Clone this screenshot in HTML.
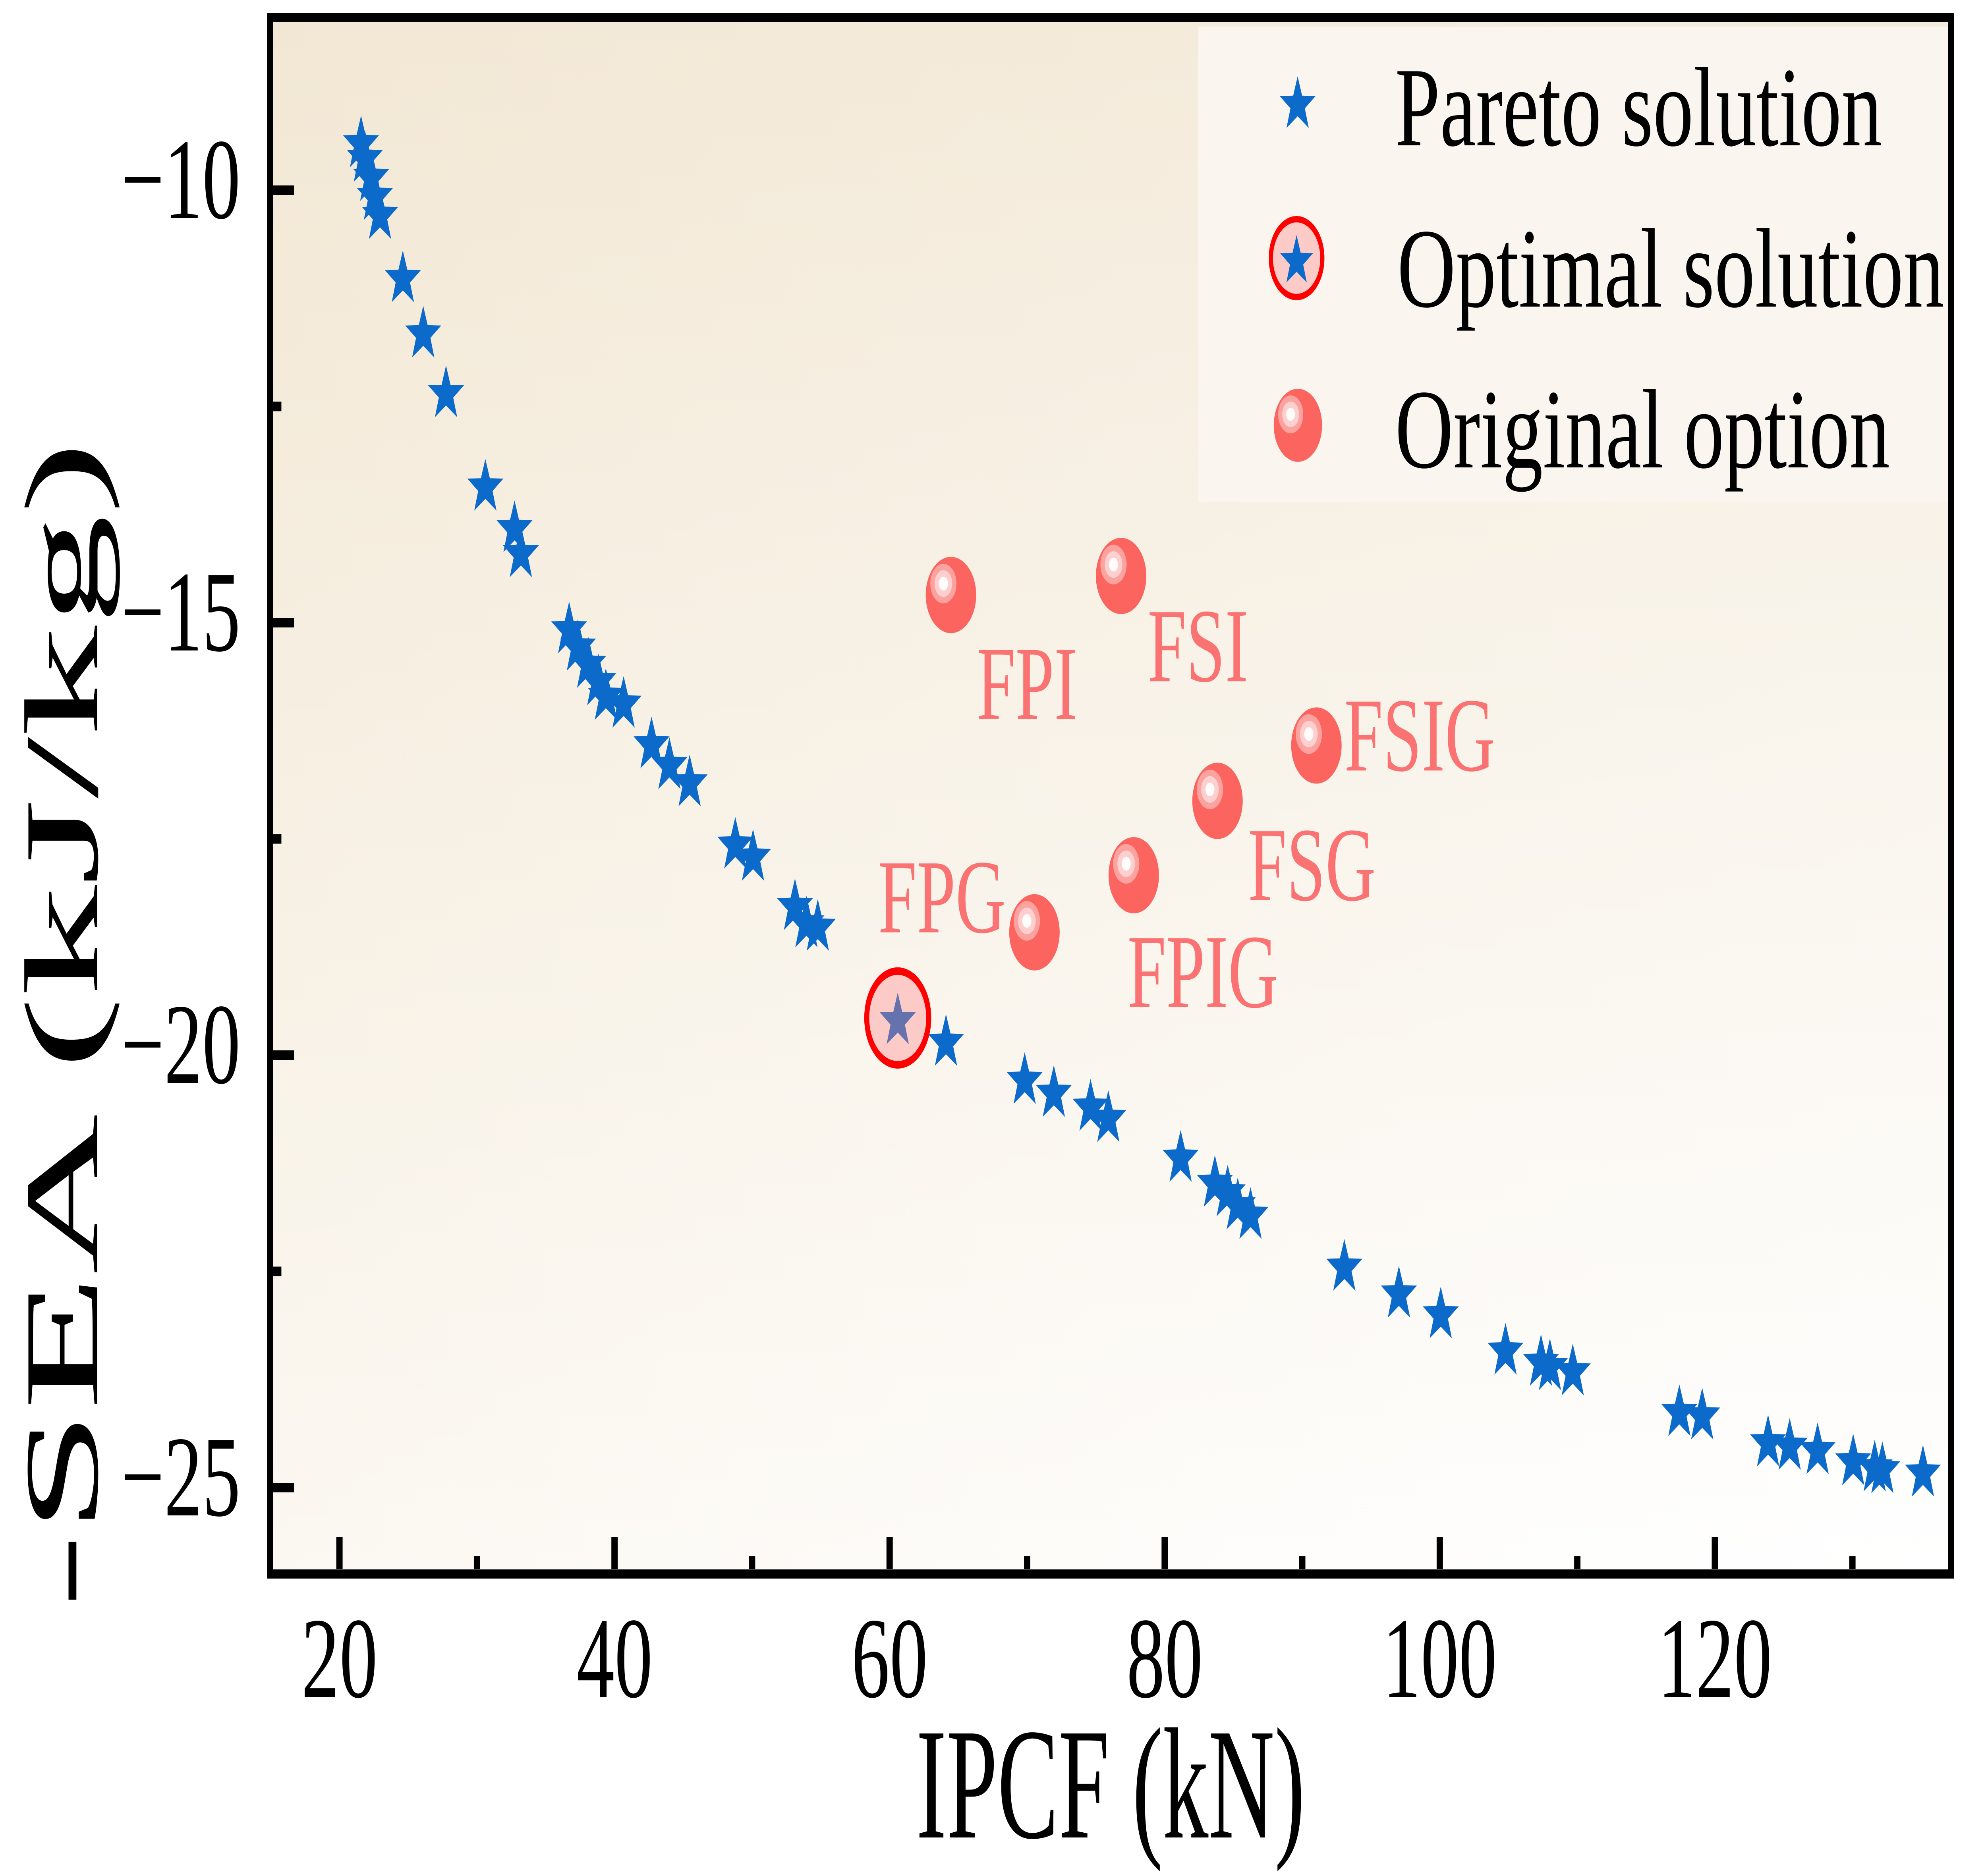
<!DOCTYPE html>
<html><head><meta charset="utf-8"><style>
html,body{margin:0;padding:0;background:#fff;width:100%;height:100%;overflow:hidden;}
svg{display:block;font-family:"Liberation Serif",serif;width:100vw;height:100vh;}
</style></head><body>
<svg id="chart" xmlns="http://www.w3.org/2000/svg" viewBox="0 0 7559 4724" preserveAspectRatio="none">
<defs>
<linearGradient id="bg" x1="0" y1="0" x2="0" y2="1">
<stop offset="0" stop-color="#f3e9d8"/><stop offset="1" stop-color="#ffffff"/>
</linearGradient>
<linearGradient id="bgh" x1="0" y1="0" x2="1" y2="0">
<stop offset="0" stop-color="#f0e2c8" stop-opacity="0.25"/><stop offset="1" stop-color="#ffffff" stop-opacity="0.15"/>
</linearGradient>
</defs>
<rect x="1039" y="55" width="6376" height="3896" fill="url(#bg)"/>
<rect x="1039" y="55" width="6376" height="3896" fill="url(#bgh)"/>
<g id="ticks"></g>
<g id="marks"></g>
<g>
<rect x="4560" y="67" width="2855" height="1196" fill="#faf6ef"/>
<g id="legend-markers"></g>
<text x="5310" y="366" font-size="285" textLength="1853" lengthAdjust="spacingAndGlyphs">Pareto solution</text>
<text x="5318" y="772" font-size="285" textLength="2081" lengthAdjust="spacingAndGlyphs">Optimal solution</text>
<text x="5310" y="1177" font-size="285" textLength="1883" lengthAdjust="spacingAndGlyphs">Original option</text>
</g>
<rect x="1028" y="43.5" width="6398" height="3920" fill="none" stroke="#000" stroke-width="23"/>
<text x="4227" y="4627" font-size="400" text-anchor="middle" textLength="1480" lengthAdjust="spacingAndGlyphs">IPCF (kN)</text>
<text transform="translate(370,2579) rotate(-90)" x="0" y="0" font-size="400" text-anchor="middle" textLength="2940" lengthAdjust="spacingAndGlyphs">-SEA (kJ/kg)</text>
</svg>
<script>
const paretoX = [21.57,21.85,22.31,22.58,22.95,24.61,26.09,27.75,30.61,32.73,33.19,36.70,37.34,38.08,38.82,39.37,40.66,42.69,43.99,45.46,48.78,50.07,53.12,53.95,54.78,64.10,69.82,71.94,74.61,75.90,81.16,83.65,84.58,85.31,86.24,93.06,97.03,100.07,104.78,107.36,108.01,109.67,117.42,119.08,123.87,125.44,127.47,130.06,131.62,132.18,135.13];
const paretoY = [-9.43,-9.60,-9.82,-10.04,-10.26,-10.99,-11.63,-12.32,-13.40,-13.88,-14.17,-15.05,-15.25,-15.45,-15.65,-15.82,-15.91,-16.38,-16.62,-16.82,-17.54,-17.68,-18.25,-18.45,-18.49,-19.82,-20.26,-20.41,-20.57,-20.70,-21.16,-21.45,-21.56,-21.71,-21.82,-22.42,-22.73,-22.97,-23.39,-23.52,-23.57,-23.63,-24.10,-24.14,-24.45,-24.49,-24.54,-24.67,-24.74,-24.76,-24.80];
const optimalX = [60.59];
const optimalY = [-19.57];
const originalNames = ["FPI","FSI","FSIG","FSG","FPIG","FPG"];
const originalX = [64.46,76.83,91.03,83.84,77.75,70.53];
const originalY = [-14.68,-14.46,-16.42,-17.06,-17.92,-18.58];
const xTicks = [20,40,60,80,100,120];
const xMinorTicks = [30,50,70,90,110,130];
const yTicks = [-10,-15,-20,-25];
const yTickLabels = ["−10","−15","−20","−25"];
const yMinorTicks = [-12.5,-17.5,-22.5];

const NS = "http://www.w3.org/2000/svg";
function sx(v){ return 1292 + (v - 20) * 52.35; }
function sy(v){ return 479 + (-10 - v) * 217.8; }
function mk(tag, attrs, parent){ const e = document.createElementNS(NS, tag); for (const k in attrs) e.setAttribute(k, attrs[k]); parent.appendChild(e); return e; }
function starPts(cx, cy, R){ const r = R * 0.40; let p = []; for (let i = 0; i < 10; i++){ const a = -Math.PI/2 + i*Math.PI/5; const rr = i%2 ? r : R; p.push((cx + rr*Math.cos(a)).toFixed(1) + "," + (cy + rr*Math.sin(a)).toFixed(1)); } return p.join(" "); }
function sphere(g, cx, cy, r){
  mk("circle", {cx:cx, cy:cy, r:r, fill:"#fc645f"}, g);
  mk("circle", {cx:cx-r*0.3, cy:cy-r*0.3, r:r*0.52, fill:"#fca29f"}, g);
  mk("circle", {cx:cx-r*0.3, cy:cy-r*0.3, r:r*0.35, fill:"#fdcfcf"}, g);
  mk("circle", {cx:cx-r*0.3, cy:cy-r*0.3, r:r*0.18, fill:"#fffdfb"}, g);
}
const ticks = document.getElementById("ticks");
const marks = document.getElementById("marks");
const BOTTOM = 3951, LEFT = 1039;
xTicks.forEach((v, i) => {
  const t = mk("rect", {x:sx(v)-12, y:BOTTOM-80, width:24, height:80, fill:"#000"}, ticks);
  
  
  const l = mk("text", {x:sx(v), y:4273, "font-size":290, "text-anchor":"middle"}, ticks);
  l.textContent = String(v);
  
  
});
xMinorTicks.forEach(v => {
  const t = mk("rect", {x:sx(v)-12, y:BOTTOM-32, width:24, height:32, fill:"#000"}, ticks);
  
  
});
yTicks.forEach((v, i) => {
  const t = mk("rect", {x:LEFT, y:sy(v)-12, width:80, height:24, fill:"#000"}, ticks);
  
  
  const l = mk("text", {x:915, y:sy(v)+70, "font-size":290, "text-anchor":"end"}, ticks);
  l.textContent = yTickLabels[i];
  
  
});
yMinorTicks.forEach(v => {
  const t = mk("rect", {x:LEFT, y:sy(v)-12, width:32, height:24, fill:"#000"}, ticks);
  
  
});
paretoX.forEach((v, i) => {
  const s = mk("polygon", {points:starPts(sx(v), sy(paretoY[i]) + 8, 72), fill:"#0c6bca"}, marks);
  
  
});
optimalX.forEach((v, i) => {
  const g = mk("g", {}, marks);
  
  
  mk("circle", {cx:sx(v), cy:sy(optimalY[i]), r:118, fill:"#fccbc8", stroke:"#ff0000", "stroke-width":19}, g);
  mk("polygon", {points:starPts(sx(v), sy(optimalY[i]) + 8, 72), fill:"#6672ae"}, g);
});
const labelDX = [98,101,106,116,-24,-109];
const labelDY = [312,265,63,250,332,0];
const labelAnchor = ["start","start","start","start","start","end"];
originalX.forEach((v, i) => {
  const g = mk("g", {}, marks);
  
  
  const cx = sx(v), cy = sy(originalY[i]);
  sphere(g, cx, cy, 96);
  const t = mk("text", {x:cx + labelDX[i], y:cy + labelDY[i], "font-size":265, fill:"#fb7272", "text-anchor":labelAnchor[i]}, marks);
  t.textContent = originalNames[i];
  
  
});
const lm = document.getElementById("legend-markers");
const ls = mk("polygon", {points:starPts(4939, 264, 72), fill:"#0c6bca"}, lm);


const lo = mk("g", {}, lm);


mk("circle", {cx:4935, cy:650, r:98, fill:"#fccbc8", stroke:"#ff0000", "stroke-width":16}, lo);
mk("polygon", {points:starPts(4935, 658, 66), fill:"#0c6bca"}, lo);
const lg = mk("g", {}, lm);


sphere(lg, 4940, 1071, 92);
</script>
</body></html>
